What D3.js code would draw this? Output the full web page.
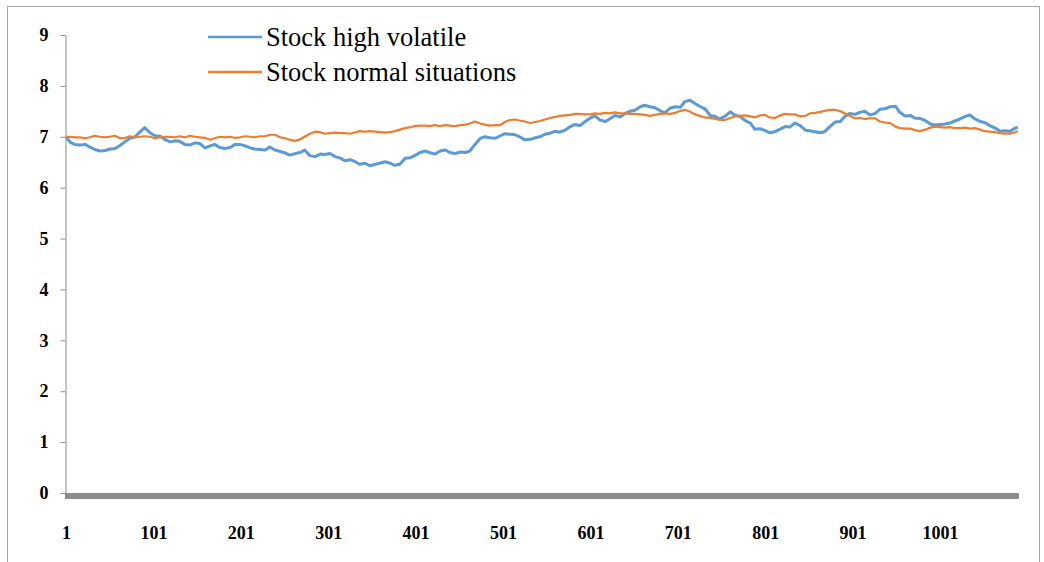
<!DOCTYPE html>
<html>
<head>
<meta charset="utf-8">
<script src="https://cdn.jsdelivr.net/npm/d3@7"></script>
<style>
  html, body { margin: 0; padding: 0; background: #fff; }
  svg { display: block; }
</style>
</head>
<body>
<svg id="chart" width="1044" height="562"></svg>
<script>
// ---- data ----
const seriesNames = ["Stock high volatile", "Stock normal situations"];
const seriesColors = ["#5B9BD5", "#ED7D31"];
const totalDays = 1090;
const xTickValues = [1, 101, 201, 301, 401, 501, 601, 701, 801, 901, 1001];
const yTickValues = [0, 1, 2, 3, 4, 5, 6, 7, 8, 9];

const days = [
  1,6,11,17,23,28,34,40,46,51,
  57,63,69,74,80,86,91,97,103,109,
  114,120,126,131,137,143,149,154,160,166,
  171,177,183,189,194,200,206,212,217,223,
  229,234,240,246,252,257,263,269,274,280,
  286,292,297,303,309,315,320,326,332,337,
  343,349,355,360,366,372,377,383,389,395,
  400,406,412,417,423,429,435,440,446,452,
  458,463,469,475,480,486,492,498,503,509,
  515,520,526,532,538,543,549,555,561,566,
  572,578,583,589,595,601,606,612,618,623,
  629,635,641,646,652,658,663,669,675,681,
  686,692,698,704,709,715,721,726,732,738,
  744,749,755,761,766,772,778,784,789,795,
  801,806,812,818,824,829,835,841,847,852,
  858,864,869,875,881,887,892,898,904,909,
  915,921,927,932,938,944,950,955,961,967,
  972,978,984,990,995,1001,1007,1012,1018,1024,
  1030,1035,1041,1047,1052,1058,1064,1070,1075,1081,
  1087,1090
];

const highVolatile = [
  7.00,6.89,6.85,6.84,6.85,6.80,6.75,6.72,6.73,6.76,
  6.77,6.83,6.91,6.97,7.00,7.10,7.18,7.08,7.02,7.01,
  6.95,6.90,6.92,6.91,6.85,6.84,6.88,6.87,6.78,6.82,
  6.85,6.79,6.77,6.79,6.85,6.85,6.82,6.78,6.76,6.75,
  6.74,6.80,6.74,6.71,6.68,6.64,6.67,6.69,6.74,6.63,
  6.61,6.66,6.65,6.67,6.61,6.58,6.53,6.55,6.51,6.46,
  6.48,6.43,6.46,6.48,6.51,6.48,6.44,6.46,6.58,6.59,
  6.63,6.69,6.72,6.69,6.66,6.72,6.74,6.69,6.67,6.70,
  6.69,6.72,6.85,6.97,7.00,6.98,6.97,7.02,7.06,7.05,
  7.04,7.00,6.94,6.95,6.98,7.00,7.05,7.07,7.11,7.09,
  7.13,7.20,7.24,7.22,7.30,7.37,7.41,7.33,7.30,7.35,
  7.42,7.39,7.46,7.50,7.52,7.59,7.62,7.59,7.57,7.51,
  7.47,7.56,7.59,7.58,7.69,7.72,7.65,7.60,7.55,7.42,
  7.40,7.35,7.40,7.49,7.43,7.40,7.32,7.27,7.15,7.16,
  7.12,7.08,7.10,7.15,7.20,7.19,7.27,7.22,7.13,7.12,
  7.10,7.08,7.10,7.20,7.29,7.30,7.40,7.46,7.44,7.48,
  7.50,7.43,7.46,7.54,7.55,7.59,7.60,7.48,7.41,7.42,
  7.37,7.36,7.32,7.25,7.23,7.24,7.25,7.27,7.31,7.35,
  7.40,7.43,7.35,7.30,7.28,7.22,7.17,7.11,7.12,7.11,
  7.17,7.19
];

const normalSituations = [
  7.00,7.00,6.99,6.99,6.97,6.99,7.02,7.00,6.99,7.00,
  7.02,6.97,6.98,7.01,6.99,7.00,7.01,7.00,6.97,6.99,
  7.00,7.00,6.99,7.01,6.99,7.02,7.00,6.99,6.98,6.94,
  6.97,7.00,6.99,7.00,6.98,6.99,7.01,7.00,6.99,7.01,
  7.01,7.04,7.04,6.99,6.97,6.94,6.92,6.95,7.00,7.06,
  7.10,7.09,7.06,7.07,7.08,7.07,7.07,7.06,7.09,7.11,
  7.10,7.11,7.10,7.09,7.08,7.09,7.11,7.14,7.17,7.19,
  7.21,7.22,7.22,7.21,7.23,7.21,7.23,7.22,7.21,7.23,
  7.24,7.26,7.30,7.26,7.24,7.22,7.23,7.23,7.29,7.33,
  7.34,7.32,7.30,7.27,7.29,7.31,7.34,7.37,7.39,7.41,
  7.42,7.43,7.45,7.45,7.44,7.44,7.46,7.45,7.47,7.46,
  7.48,7.46,7.46,7.45,7.45,7.44,7.43,7.41,7.43,7.45,
  7.46,7.45,7.47,7.51,7.53,7.49,7.44,7.41,7.38,7.37,
  7.35,7.33,7.33,7.37,7.40,7.41,7.42,7.40,7.38,7.42,
  7.43,7.38,7.37,7.42,7.45,7.44,7.44,7.40,7.41,7.46,
  7.47,7.49,7.51,7.53,7.53,7.50,7.46,7.41,7.36,7.37,
  7.35,7.36,7.36,7.30,7.28,7.27,7.20,7.17,7.16,7.16,
  7.13,7.11,7.14,7.18,7.20,7.19,7.18,7.19,7.17,7.17,
  7.18,7.16,7.17,7.14,7.11,7.10,7.09,7.07,7.06,7.06,
  7.09,7.11
];

// ---- drawing ----
const svg = d3.select("#chart");
const font = "'Liberation Serif', 'Times New Roman', serif";

// outer chart frame
svg.append("rect")
  .attr("x", 7.5).attr("y", 6.5)
  .attr("width", 1032).attr("height", 600)
  .attr("fill", "none").attr("stroke", "#a6a6a6").attr("stroke-width", 1);

const x = d3.scaleLinear().domain([1, totalDays]).range([66, 1017.8]);
const y = d3.scaleLinear().domain([0, 9]).range([493, 35]);

// y axis
const yAxis = svg.append("g")
  .attr("transform", "translate(65.5,0)")
  .call(d3.axisLeft(y).tickValues(yTickValues).tickSize(5).tickSizeOuter(0).tickPadding(12).tickFormat(d3.format("d")));
yAxis.select(".domain").attr("stroke", "#8c8c8c");
yAxis.selectAll(".tick line").attr("stroke", "#8c8c8c");
yAxis.selectAll(".tick text")
  .attr("font-family", font).attr("font-size", 18).attr("font-weight", "bold").attr("fill", "#000");

// series lines
const line = d3.line().x((d, i) => x(days[i])).y(d => y(d));
[highVolatile, normalSituations].forEach((vals, k) => {
  svg.append("path")
    .datum(vals)
    .attr("fill", "none")
    .attr("stroke", seriesColors[k])
    .attr("stroke-width", k === 0 ? 3 : 2.2)
    .attr("stroke-linejoin", "round")
    .attr("d", line);
});

// x axis (thick gray bar)
const xAxis = svg.append("g")
  .attr("transform", "translate(0,496)")
  .call(d3.axisBottom(x).tickValues(xTickValues).tickSize(0).tickPadding(30).tickFormat(d3.format("d")));
xAxis.select(".domain")
  .attr("d", "M65,0H1019")
  .attr("stroke", "#8c8c8c").attr("stroke-width", 6);
xAxis.selectAll(".tick text")
  .attr("font-family", font).attr("font-size", 18).attr("font-weight", "bold").attr("fill", "#000");

// legend
const legend = svg.append("g");
seriesNames.forEach((name, k) => {
  const ly = 37 + k * 35;
  legend.append("line")
    .attr("x1", 208).attr("x2", 262).attr("y1", ly).attr("y2", ly)
    .attr("stroke", seriesColors[k]).attr("stroke-width", 2.4);
  legend.append("text")
    .attr("x", 266).attr("y", ly + 9)
    .attr("font-family", font).attr("font-size", 26.5).attr("fill", "#000")
    .text(name);
});
</script>
</body>
</html>
